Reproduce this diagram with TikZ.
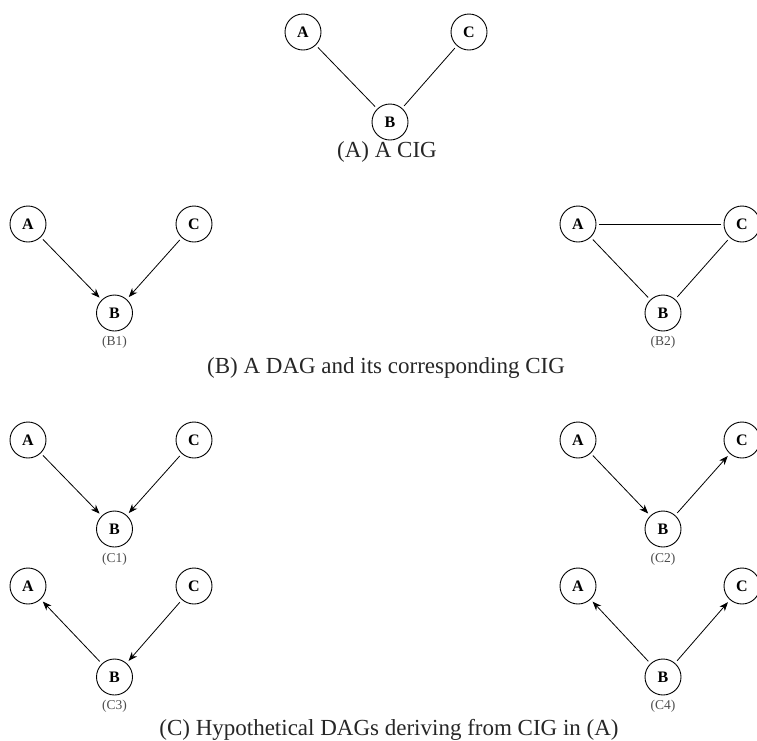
\documentclass[tikz,border=0pt]{standalone}
\usepackage{fontspec}
\setmainfont{Liberation Serif}
\usetikzlibrary{arrows.meta}
\tikzset{
  var/.style={circle, draw, line width=0.9pt, minimum size=36pt, inner sep=0pt,
    font=\fontsize{16}{16}\selectfont\bfseries},
  link/.style={line width=0.8pt, shorten <=3pt, shorten >=3pt},
  dir/.style={link, -{Stealth[length=9pt,width=7pt]}},
  sublabel/.style={anchor=base, font=\fontsize{13.5}{13.5}\selectfont, text=black!70},
  caption/.style={anchor=base, font=\fontsize{23}{23}\selectfont, text=black!85},
}
\begin{document}
\begin{tikzpicture}[x=1pt,y=-1pt]
\useasboundingbox (0,0) rectangle (757,740);
\clip (0,0) rectangle (757,740);
% (A) the CIG
\node[var] (a0) at (303,32) {A};
\node[var] (c0) at (469,32) {C};
\node[var] (b0) at (390,122) {B};
\draw[link] (a0) -- (b0);
\draw[link] (c0) -- (b0);
\node[caption] (capA) at (387,157) {(A) A CIG};
% (B1) collider DAG
\node[var] (a1) at (28,224) {A};
\node[var] (c1) at (194,224) {C};
\node[var] (b1) at (114.5,313) {B};
\draw[dir] (a1) -- (b1);
\draw[dir] (c1) -- (b1);
\node[sublabel] (lb1) at (114.5,345) {(B1)};
% (B2) its moral graph
\node[var] (a2) at (578,224) {A};
\node[var] (c2) at (742,224) {C};
\node[var] (b2) at (663,313) {B};
\draw[link] (a2) -- (c2);
\draw[link] (a2) -- (b2);
\draw[link] (c2) -- (b2);
\node[sublabel] (lb2) at (663,345) {(B2)};
\node[caption] (capB) at (386,373) {(B) A DAG and its corresponding CIG};
% (C1)
\node[var] (a3) at (28,440) {A};
\node[var] (c3) at (194,440) {C};
\node[var] (b3) at (114.5,529) {B};
\draw[dir] (a3) -- (b3);
\draw[dir] (c3) -- (b3);
\node[sublabel] (lc1) at (114.5,562) {(C1)};
% (C2)
\node[var] (a4) at (578,440) {A};
\node[var] (c4) at (742,440) {C};
\node[var] (b4) at (663,529) {B};
\draw[dir] (a4) -- (b4);
\draw[dir] (b4) -- (c4);
\node[sublabel] (lc2) at (663,562) {(C2)};
% (C3)
\node[var] (a5) at (28,586) {A};
\node[var] (c5) at (194,586) {C};
\node[var] (b5) at (114.5,677) {B};
\draw[dir] (b5) -- (a5);
\draw[dir] (c5) -- (b5);
\node[sublabel] (lc3) at (114.5,709) {(C3)};
% (C4)
\node[var] (a6) at (578,586) {A};
\node[var] (c6) at (742,586) {C};
\node[var] (b6) at (663,677) {B};
\draw[dir] (b6) -- (a6);
\draw[dir] (b6) -- (c6);
\node[sublabel] (lc4) at (663,709) {(C4)};
\node[caption] (capC) at (389,735) {(C) Hypothetical DAGs deriving from CIG in (A)};
\end{tikzpicture}
\end{document}
